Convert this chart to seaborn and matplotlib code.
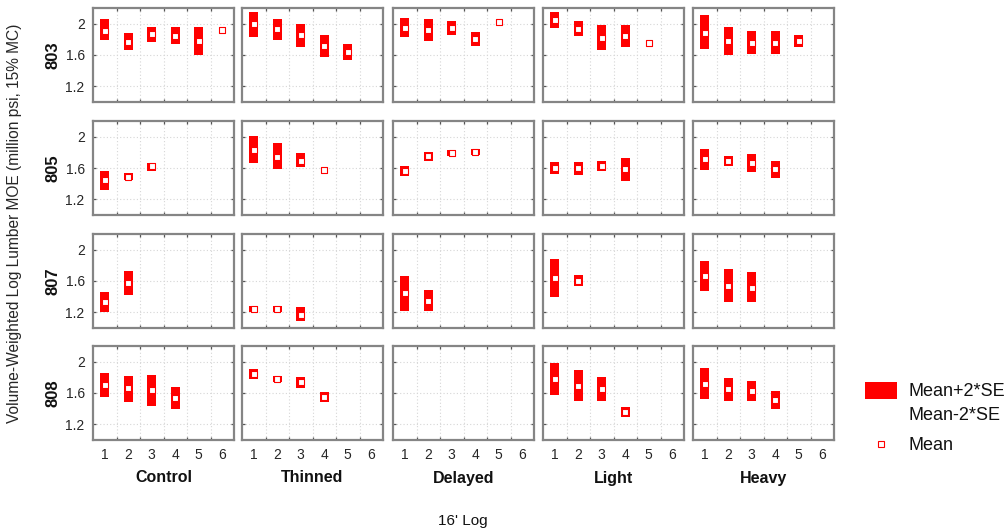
import numpy as np
import pandas as pd
import matplotlib
matplotlib.use("Agg")
import matplotlib.pyplot as plt
import seaborn as sns
from matplotlib.patches import Rectangle
from matplotlib.lines import Line2D

# ---------------- data ----------------
stands = ["803", "805", "807", "808"]
treatments = ["Control", "Thinned", "Delayed", "Light", "Heavy"]
log_ticks = [1, 2, 3, 4, 5, 6]
y_ticks = [1.2, 1.6, 2.0]
y_tick_labels = ["1.2", "1.6", "2"]

# Each stand: one list per treatment, index i -> 16' log i+1.
# None in lower/upper = only a mean (no SE band)
mean_803 = [[1.91, 1.77, 1.87, 1.84, 1.78, 1.92],
            [1.99, 1.93, 1.85, 1.71, 1.64],
            [1.94, 1.92, 1.94, 1.81, 2.02],
            [2.05, 1.93, 1.82, 1.84, 1.75],
            [1.88, 1.78, 1.75, 1.75, 1.78]]
lower_803 = [[1.79, 1.67, 1.765, 1.735, 1.60, None],
             [1.83, 1.79, 1.70, 1.57, 1.53],
             [1.83, 1.78, 1.86, 1.72, None],
             [1.95, 1.84, 1.67, 1.70, None],
             [1.68, 1.60, 1.615, 1.615, 1.705]]
upper_803 = [[2.055, 1.885, 1.96, 1.96, 1.96, None],
             [2.15, 2.06, 1.99, 1.85, 1.74],
             [2.07, 2.06, 2.03, 1.90, None],
             [2.15, 2.03, 1.98, 1.98, None],
             [2.11, 1.96, 1.90, 1.90, 1.86]]

mean_805 = [[1.445, 1.487, 1.624],
            [1.83, 1.744, 1.69, 1.573],
            [1.56, 1.749, 1.787, 1.808],
            [1.603, 1.595, 1.628, 1.582],
            [1.71, 1.692, 1.667, 1.582]]
lower_805 = [[1.317, 1.445, 1.564],
             [1.66, 1.582, 1.615, None],
             [1.496, 1.692, 1.75, 1.77],
             [1.52, 1.509, 1.56, 1.436],
             [1.573, 1.628, 1.55, 1.474]]
upper_805 = [[1.56, 1.53, 1.667],
             [2.013, 1.923, 1.787, None],
             [1.628, 1.80, 1.825, 1.845],
             [1.68, 1.672, 1.692, 1.73],
             [1.842, 1.753, 1.778, 1.692]]

mean_807 = [[1.328, 1.577],
            [1.244, 1.244, 1.17],
            [1.444, 1.35],
            [1.636, 1.606],
            [1.662, 1.53, 1.513]]
lower_807 = [[1.209, 1.427],
             [1.205, 1.21, 1.085],
             [1.222, 1.213],
             [1.40, 1.533],
             [1.478, 1.328, 1.328]]
upper_807 = [[1.456, 1.726],
             [1.285, 1.28, 1.273],
             [1.67, 1.487],
             [1.885, 1.68],
             [1.85, 1.747, 1.713]]

mean_808 = [[1.70, 1.659, 1.637, 1.538],
            [1.838, 1.778, 1.744, 1.551],
            [],
            [1.774, 1.692, 1.65, 1.359],
            [1.714, 1.646, 1.624, 1.509]]
lower_808 = [[1.551, 1.487, 1.432, 1.40],
             [1.778, 1.736, 1.667, 1.487],
             [],
             [1.573, 1.50, 1.50, 1.295],
             [1.518, 1.496, 1.50, 1.39]]
upper_808 = [[1.859, 1.82, 1.83, 1.672],
             [1.902, 1.82, 1.808, 1.615],
             [],
             [1.979, 1.894, 1.80, 1.423],
             [1.915, 1.787, 1.753, 1.628]]

stand_data = {
    "803": (mean_803, lower_803, upper_803),
    "805": (mean_805, lower_805, upper_805),
    "807": (mean_807, lower_807, upper_807),
    "808": (mean_808, lower_808, upper_808),
}

rows = []
for st in stands:
    m, lo, hi = stand_data[st]
    for t, tr in enumerate(treatments):
        for k in range(len(m[t])):
            rows.append(dict(stand=st, treatment=tr, log=k + 1, mean=m[t][k],
                             lower=np.nan if lo[t][k] is None else lo[t][k],
                             upper=np.nan if hi[t][k] is None else hi[t][k]))
df = pd.DataFrame(rows)

# ---------------- style ----------------
sns.set_style("ticks")
plt.rcParams["font.family"] = ["Liberation Sans", "DejaVu Sans"]

W, H = 1007, 531
fig = plt.figure(figsize=(W / 100, H / 100), dpi=100)

col_left = [93, 242, 393, 543, 693]
row_top = [8, 121, 234, 346]
pw, ph = 141, 94
frame_col = "#858585"
red = "#ff0000"
txt_col = "#262626"

for i, st in enumerate(stands):
    for j, tr in enumerate(treatments):
        L, T = col_left[j], row_top[i]
        ax = fig.add_axes([L / W, 1 - (T + ph) / H, pw / W, ph / H])
        sub = df[(df.stand == st) & (df.treatment == tr)]
        band = sub.dropna(subset=["lower", "upper"])
        if len(band):
            ax.bar(band["log"], band["upper"] - band["lower"], bottom=band["lower"],
                   width=0.4, color=red, linewidth=0, zorder=2)
        if len(sub):
            sns.scatterplot(data=sub, x="log", y="mean", marker="s", s=13,
                            color="white", edgecolor=red, linewidth=0.8,
                            ax=ax, legend=False, zorder=3)
        ax.set_xlim(0.5, 6.5)
        ax.set_ylim(1.0, 2.2)
        ax.set_xlabel("")
        ax.set_ylabel("")
        ax.set_xticks([1.5, 2.5, 3.5, 4.5, 5.5])
        ax.set_xticks(log_ticks, minor=True)
        ax.set_yticks(y_ticks)
        ax.tick_params(axis="both", which="major", direction="in", length=2.5,
                       width=0.9, color="#555555", top=True, right=True,
                       labelsize=10, labelcolor=txt_col)
        ax.tick_params(axis="x", which="major", labelbottom=False)
        ax.tick_params(axis="x", which="minor", length=0, pad=6,
                       labelsize=10, labelcolor=txt_col,
                       labelbottom=(i == len(stands) - 1))
        if i == len(stands) - 1:
            ax.set_xticklabels([str(v) for v in log_ticks], minor=True)
        else:
            ax.set_xticklabels([], minor=True)
        if j == 0:
            ax.set_yticklabels(y_tick_labels)
            ax.tick_params(axis="y", pad=6)
        else:
            ax.set_yticklabels([])
        ax.grid(True, which="major", linestyle=(0, (1, 2)), color="#d6d6d6",
                linewidth=0.8)
        for s in ax.spines.values():
            s.set_color(frame_col)
            s.set_linewidth(1.6)
            s.set_visible(True)
        ax.set_axisbelow(True)

# row labels
for i, st in enumerate(stands):
    yc = row_top[i] + ph / 2
    fig.text(53 / W, 1 - yc / H, st, rotation=90, ha="center", va="center",
             fontsize=12, fontweight="bold", color="#111111")

# column labels
for j, tr in enumerate(treatments):
    xc = col_left[j] + pw / 2
    fig.text(xc / W, 1 - 478 / H, tr, ha="center", va="center",
             fontsize=11.5, fontweight="bold", color="#111111")

# axis titles
fig.text(15 / W, 1 - 223 / H,
         "Volume-Weighted Log Lumber MOE (million psi, 15% MC)",
         rotation=90, ha="center", va="center", fontsize=11.2, color=txt_col)
fig.text(463 / W, 1 - 521 / H, "16' Log", ha="center", va="center",
         fontsize=11, color="#111111")

# legend
fig.add_artist(Rectangle((865 / W, 1 - 399 / H), 32 / W, 17.5 / H,
                         transform=fig.transFigure, facecolor=red,
                         edgecolor="none"))
fig.text(909 / W, 1 - 391 / H, "Mean+2*SE", ha="left", va="center",
         fontsize=13, color="#111111")
fig.text(909 / W, 1 - 416 / H, "Mean-2*SE", ha="left", va="center",
         fontsize=13, color="#111111")
fig.add_artist(Line2D([881 / W], [1 - 444 / H], transform=fig.transFigure,
                      marker="s", markersize=4, markerfacecolor="white",
                      markeredgecolor=red, markeredgewidth=0.8, linestyle="none"))
fig.text(909 / W, 1 - 445 / H, "Mean", ha="left", va="center",
         fontsize=13, color="#111111")

fig.savefig("out.png", dpi=100)
